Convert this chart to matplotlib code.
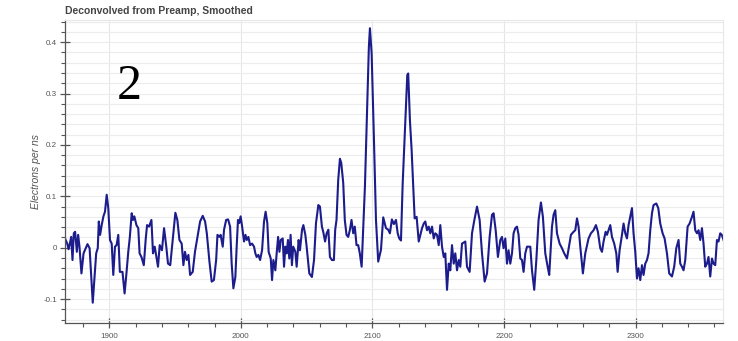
import matplotlib
matplotlib.use('Agg')
import matplotlib.pyplot as plt
from matplotlib.ticker import MultipleLocator, FuncFormatter

# trace (time in ns, electrons per ns)
time_ns = [
    1866.3, 1868, 1869, 1870, 1871, 1872, 1873, 1874, 1875.3, 1876.3,
    1877.3, 1878.8, 1880.4, 1883.4, 1885, 1887.4, 1890, 1891.2, 1892, 1893,
    1894.2, 1895.5, 1896.7, 1898, 1899.2, 1900.5, 1901.8, 1903, 1904.3, 1905.5,
    1906.8, 1908, 1910, 1911.6, 1913, 1914.4, 1915.6, 1917, 1918, 1919,
    1920.6, 1922, 1923, 1924.4, 1926.2, 1927.7, 1928.7, 1930.2, 1932, 1933.2,
    1934.5, 1935.8, 1937, 1938.3, 1940, 1941.6, 1943.3, 1944.6, 1946.3, 1948.6,
    1950.2, 1951.7, 1953.3, 1955, 1956.3, 1957.5, 1958.8, 1960.1, 1961.4, 1963.4,
    1965.1, 1967, 1969, 1971, 1972.8, 1974.1, 1976.1, 1977.8, 1979.5, 1981.2,
    1982.2, 1983.6, 1984.6, 1986.2, 1987.2, 1988.8, 1990.3, 1991.8, 1993, 1994.3,
    1995.8, 1996.8, 1997.8, 1998.8, 1999.8, 2000.8, 2002.4, 2003.5, 2004.5, 2005.7,
    2007, 2008.5, 2010, 2011, 2012, 2013.3, 2014.6, 2016.1, 2017.6, 2018.8,
    2020.1, 2021.1, 2022.7, 2023.7, 2024.7, 2026.2, 2027.2, 2028.3, 2029.3, 2030.3,
    2031.8, 2032.8, 2033.8, 2034.8, 2035.8, 2036.8, 2037.8, 2038.8, 2039.8, 2041.4,
    2042.4, 2043.9, 2044.9, 2046.5, 2047.5, 2049, 2050, 2052, 2054, 2055.6,
    2057.1, 2058.9, 2060.1, 2061.6, 2062.6, 2064, 2065.2, 2066.5, 2067.7, 2069.2,
    2070.7, 2071.7, 2072.7, 2074, 2075.3, 2076.3, 2077.8, 2079, 2080.3, 2081.6,
    2082.9, 2084.1, 2085.4, 2086.6, 2087.9, 2089.2, 2090.4, 2091.8, 2093.3, 2094.3,
    2096.1, 2097.3, 2098.1, 2099.4, 2101.1, 2102.7, 2104.4, 2106.5, 2108.2, 2110.3,
    2112, 2113.3, 2114.8, 2116.3, 2117.9, 2119.2, 2120.4, 2121.7, 2123, 2124.7,
    2126.5, 2127.2, 2128.5, 2129.8, 2131, 2132.1, 2133.6, 2135.2, 2137.7, 2139,
    2140.2, 2141.5, 2142.8, 2144, 2145.3, 2146.6, 2147.8, 2149.1, 2150.4, 2151.6,
    2152.9, 2154.2, 2155.4, 2156.7, 2158, 2159.2, 2160.5, 2161.8, 2163, 2164.3,
    2165.6, 2166.8, 2168.1, 2170.6, 2171.9, 2173.9, 2175.7, 2177.5, 2179.5, 2181.5,
    2183.3, 2185.3, 2187.1, 2189.1, 2190.9, 2192.1, 2193.7, 2195.4, 2197.2, 2198.5,
    2199.7, 2201, 2202.3, 2203.5, 2204.8, 2206.1, 2207.3, 2208.6, 2209.9, 2211.1,
    2212.4, 2213.7, 2214.9, 2216.2, 2217.5, 2220, 2221.3, 2223, 2224.6, 2226.3,
    2228.1, 2229.6, 2231.4, 2233.2, 2234.4, 2236.5, 2237.7, 2239, 2240.3, 2242.3,
    2244.1, 2245.8, 2247.9, 2249.6, 2250.9, 2252.9, 2254.2, 2255.5, 2256.7, 2258,
    2260, 2261.8, 2264.3, 2266.1, 2268.1, 2269.9, 2271.4, 2273.2, 2274.5, 2275.7,
    2277.3, 2278.3, 2279.5, 2280.8, 2282.1, 2283.8, 2285.4, 2286.4, 2287.9, 2289.7,
    2290.9, 2292.2, 2293.5, 2294.7, 2296, 2297.3, 2298.5, 2299.8, 2301.1, 2302.3,
    2303.6, 2304.9, 2306.1, 2307.4, 2308.7, 2309.9, 2311.2, 2312.5, 2313.7, 2315.8,
    2317.3, 2318.8, 2320.6, 2322.1, 2323.9, 2325.6, 2327.7, 2329.4, 2331, 2332.7,
    2334, 2335.3, 2336.5, 2337.8, 2339.6, 2341.1, 2342.9, 2344.1, 2345.4, 2346.7,
    2347.9, 2349.2, 2350.5, 2351.7, 2353, 2354.3, 2355.5, 2356.8, 2358.1, 2359.3,
    2360.6, 2361.9, 2363.1, 2364.4, 2365.6, 2366.9,
]
electrons_per_ns = [
    0.018, 0.008, -0.003, 0.008, 0.021, -0.024, 0.028, 0.031, -0.008, 0.025,
    0.002, -0.050, -0.011, 0.007, -0.001, -0.107, -0.011, -0.001, 0.051, 0.025,
    0.044, 0.061, 0.070, 0.103, 0.077, 0.015, 0.008, -0.053, 0.002, 0.005,
    0.025, -0.047, -0.047, -0.089, -0.050, -0.008, 0.021, 0.067, 0.054, 0.061,
    0.044, 0.038, -0.011, -0.018, -0.034, 0.018, 0.044, 0.041, 0.054, -0.011,
    0.002, -0.018, -0.037, 0.005, -0.005, 0.038, 0.002, -0.031, -0.034, 0.025,
    0.068, 0.054, 0.015, 0.008, -0.034, -0.008, -0.024, -0.014, -0.053, -0.047,
    -0.008, 0.021, 0.051, 0.062, 0.051, 0.028, -0.027, -0.066, -0.063, -0.024,
    0.025, 0.021, 0.025, 0.002, 0.035, 0.054, 0.055, 0.041, -0.031, -0.079,
    -0.057, 0.002, 0.054, 0.048, 0.061, 0.044, 0.012, 0.025, 0.015, 0.021,
    0.005, 0.008, 0.002, -0.011, -0.018, -0.014, -0.024, -0.005, 0.051, 0.070,
    0.048, -0.008, -0.021, -0.063, -0.024, -0.044, -0.011, 0.021, -0.008, 0.015,
    0.018, -0.037, 0.002, -0.011, 0.015, -0.021, 0.025, -0.034, 0.002, -0.008,
    -0.037, 0.015, -0.005, 0.035, 0.044, 0.025, 0.002, -0.050, -0.057, -0.024,
    0.048, 0.083, 0.080, 0.041, 0.031, 0.012, 0.028, 0.035, -0.018, -0.024,
    -0.024, 0.035, 0.054, 0.132, 0.173, 0.165, 0.126, 0.054, 0.025, 0.021,
    0.035, 0.054, 0.028, 0.041, 0.005, 0.005, -0.011, -0.037, 0.054, 0.119,
    0.281, 0.391, 0.427, 0.378, 0.216, 0.054, -0.027, -0.004, 0.059, 0.038,
    0.035, 0.028, 0.055, 0.046, 0.054, 0.028, 0.018, 0.014, 0.125, 0.229,
    0.336, 0.339, 0.248, 0.190, 0.119, 0.057, 0.060, 0.012, 0.038, 0.047,
    0.051, 0.034, 0.041, 0.028, 0.041, 0.018, 0.028, 0.025, 0.005, 0.044,
    0.002, -0.018, -0.011, -0.082, -0.031, -0.044, 0.005, -0.031, -0.011, -0.044,
    -0.024, -0.037, 0.008, 0.012, -0.037, -0.047, 0.028, 0.054, 0.080, 0.054,
    -0.011, -0.066, -0.050, 0.021, 0.064, 0.067, 0.034, -0.018, 0.015, 0.021,
    -0.001, 0.018, -0.031, -0.005, -0.031, -0.011, 0.028, 0.038, 0.041, 0.025,
    -0.021, -0.024, -0.047, -0.011, 0.002, 0.002, -0.044, -0.082, -0.024, 0.054,
    0.088, 0.060, -0.011, -0.037, -0.053, 0.041, 0.064, 0.073, 0.028, 0.008,
    -0.001, -0.011, -0.021, 0.005, 0.025, 0.031, 0.034, 0.057, 0.041, 0.002,
    -0.050, -0.011, 0.018, 0.028, 0.034, 0.044, 0.031, -0.001, -0.008, 0.012,
    0.031, 0.025, 0.034, 0.044, 0.021, 0.008, -0.011, -0.047, -0.005, 0.025,
    0.047, 0.028, 0.018, 0.044, 0.060, 0.077, 0.028, -0.008, -0.060, -0.040,
    -0.063, -0.034, -0.053, -0.031, -0.024, -0.011, 0.034, 0.067, 0.083, 0.086,
    0.077, 0.047, 0.028, 0.018, -0.011, -0.050, -0.056, -0.037, -0.001, 0.015,
    -0.031, -0.037, -0.044, -0.024, 0.041, 0.047, 0.060, 0.070, 0.034, 0.028,
    0.034, 0.015, 0.038, 0.008, -0.037, -0.031, -0.018, -0.056, -0.021, -0.031,
    -0.034, 0.015, 0.012, 0.028, 0.025, 0.015,
]

x_ticks = [1900, 2000, 2100, 2200, 2300]
y_ticks = [-0.1, 0, 0.1, 0.2, 0.3, 0.4]

plt.rcParams['font.family'] = ['Liberation Sans', 'DejaVu Sans']

fig = plt.figure(figsize=(7.38, 3.41), dpi=100)
ax = fig.add_axes([65 / 738, 18 / 341, 658 / 738, 303 / 341])

ax.plot(time_ns, electrons_per_ns, color='#1c1c8c', lw=1.5, solid_joinstyle='round')

ax.set_xlim(1866.3, 2366.5)
ax.set_ylim(-0.1465, 0.443)

ax.set_xticks(x_ticks)
ax.set_yticks(y_ticks)
ax.xaxis.set_minor_locator(MultipleLocator(20))
ax.yaxis.set_minor_locator(MultipleLocator(0.02))
ax.yaxis.set_major_formatter(FuncFormatter(lambda v, p: '0' if abs(v) < 1e-9 else f'{v:g}'))

ax.grid(True, which='major', axis='x', color='#e6e6e6', lw=0.8)
ax.grid(True, which='both', axis='y', color='#ececec', lw=0.8)
ax.set_axisbelow(True)

for s in ['top', 'right']:
    ax.spines[s].set_color('#e8e8e8')
    ax.spines[s].set_linewidth(0.8)
for s in ['left', 'bottom']:
    ax.spines[s].set_color('#555555')
    ax.spines[s].set_linewidth(0.9)

ax.tick_params(which='major', direction='inout', length=7, width=0.9, color='#555555',
               labelsize=5.8, labelcolor='#555555', pad=2)
ax.tick_params(axis='x', which='major', pad=4)
ax.tick_params(which='minor', direction='out', length=3, width=0.8, color='#555555')

ax.set_ylabel('Electrons per ns', fontsize=7.5, style='italic', color='#555555', labelpad=2)

fig.text(65 / 738, 1 - 14 / 341, 'Deconvolved from Preamp, Smoothed', fontsize=7.5,
         fontweight='bold', color='#444444')
fig.text(117 / 738, 1 - 99 / 341, '2', fontsize=36, family='Liberation Serif', color='black')

fig.savefig('out.png', dpi=100)
